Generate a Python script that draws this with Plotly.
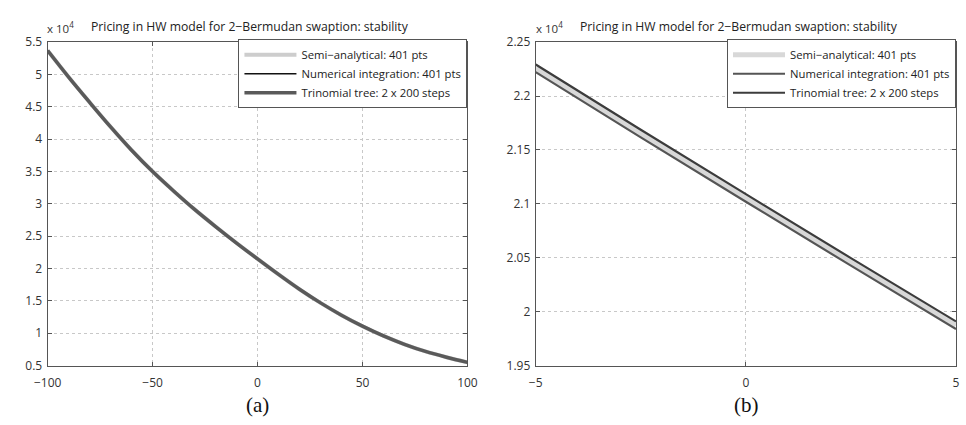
import plotly.graph_objects as go

# ---------------- data ----------------
# panel (a): shift vs price
x_a = [-100, -90, -80, -70, -60, -50, -40, -30, -20, -10, 0,
       10, 20, 30, 40, 50, 60, 70, 80, 90, 100]
price_a = [53700, 49600, 45700, 41900, 38300, 35000, 32000, 29150, 26500, 23950, 21500,
           19100, 16800, 14700, 12800, 11100, 9600, 8300, 7200, 6300, 5500]
semi_a = price_a
numint_a = price_a
tree_a = price_a

# panel (b): zoom
x_b = [-5, -2.5, 0, 2.5, 5]
semi_b = [22257, 21652, 21055, 20462, 19875]
numint_b = [22222, 21617, 21020, 20427, 19840]
tree_b = [22292, 21687, 21090, 20497, 19910]

names = ["Semi\u2212analytical: 401 pts",
         "Numerical integration: 401 pts",
         "Trinomial tree: 2 x 200 steps"]

yticks_a = [5000, 10000, 15000, 20000, 25000, 30000, 35000, 40000, 45000, 50000, 55000]
yticks_b = [19500, 20000, 20500, 21000, 21500, 22000, 22500]
xticks_a = [-100, -50, 0, 50, 100]
xticks_b = [-5, 0, 5]

title_txt = "Pricing in HW model for 2\u2212Bermudan swaption: stability"

# ---------------- figure ----------------
W, H = 966, 425
def px(x): return x / W
def py(y): return 1 - y / H

fig = go.Figure()

FONT = "Open Sans"

# panel a traces
fig.add_trace(go.Scatter(x=x_a, y=semi_a, mode="lines", name=names[0],
                         line=dict(color="#cdcdcd", width=4, shape="spline"),
                         xaxis="x", yaxis="y", legend="legend"))
fig.add_trace(go.Scatter(x=x_a, y=numint_a, mode="lines", name=names[1],
                         line=dict(color="#111111", width=1.3, shape="spline"),
                         xaxis="x", yaxis="y", legend="legend"))
fig.add_trace(go.Scatter(x=x_a, y=tree_a, mode="lines", name=names[2],
                         line=dict(color="#5a5a5a", width=3.5, shape="spline"),
                         xaxis="x", yaxis="y", legend="legend"))

# panel b traces
fig.add_trace(go.Scatter(x=x_b, y=semi_b, mode="lines", name=names[0],
                         line=dict(color="#d8d8d8", width=5, shape="spline"),
                         xaxis="x2", yaxis="y2", legend="legend2"))
fig.add_trace(go.Scatter(x=x_b, y=numint_b, mode="lines", name=names[1],
                         line=dict(color="#555555", width=2.2, shape="spline"),
                         xaxis="x2", yaxis="y2", legend="legend2"))
fig.add_trace(go.Scatter(x=x_b, y=tree_b, mode="lines", name=names[2],
                         line=dict(color="#3c3c3c", width=2.2, shape="spline"),
                         xaxis="x2", yaxis="y2", legend="legend2"))

ax_common = dict(showline=True, linecolor="#555555", linewidth=1, mirror="allticks",
                 ticks="inside", ticklen=4, tickcolor="#555555",
                 showgrid=True, gridcolor="#c8c8c8", griddash="dot", gridwidth=1,
                 zeroline=False, tickfont=dict(family=FONT, size=12, color="#333333"))

top, bot = 34.5, 371.5
legend_common = dict(xanchor="right", y=py(top - 3), yanchor="top",
                     bgcolor="white", bordercolor="#555555", borderwidth=1,
                     font=dict(family=FONT, size=11.3, color="#222222"),
                     tracegroupgap=0, itemwidth=52)
fig.update_layout(
    width=W, height=H, margin=dict(l=0, r=0, t=0, b=0),
    paper_bgcolor="white", plot_bgcolor="white",
    font=dict(family=FONT, size=11, color="#222222"),
    xaxis=dict(domain=[px(34.5), px(465)], range=[-100, 100], tickvals=xticks_a,
               anchor="y", ticklabelstandoff=6, **ax_common),
    yaxis=dict(domain=[py(bot), py(top)], range=[5000, 55000], tickvals=yticks_a,
               ticktext=[f"{v/1e4:g}" for v in yticks_a], anchor="x",
               ticklabelstandoff=2, **ax_common),
    xaxis2=dict(domain=[px(535), 1.0], range=[-5, 5], tickvals=xticks_b,
                anchor="y2", ticklabelstandoff=6, **ax_common),
    yaxis2=dict(domain=[py(bot), py(top)], range=[19500, 22500], tickvals=yticks_b,
                ticktext=[f"{v/1e4:g}" for v in yticks_b], anchor="x2",
                ticklabelstandoff=2, **ax_common),
    legend=dict(x=px(465), **legend_common),
    legend2=dict(x=1.0, **legend_common),
    showlegend=True,
)

ann = []
for cx in [242, 743]:
    ann.append(dict(text=title_txt, x=px(cx), y=py(18), xref="paper", yref="paper",
                    showarrow=False, xanchor="center", yanchor="middle",
                    font=dict(family=FONT, size=12.2, color="#222222")))
for lx in [32, 533]:
    ann.append(dict(text="x 10<sup>4</sup>", x=px(lx), y=py(19), xref="paper", yref="paper",
                    showarrow=False, xanchor="left", yanchor="middle",
                    font=dict(family=FONT, size=11.5, color="#333333")))
for cx, lab in [(250, "(a)"), (751, "(b)")]:
    ann.append(dict(text=lab, x=px(cx), y=py(413), xref="paper", yref="paper",
                    showarrow=False, xanchor="center", yanchor="middle",
                    font=dict(family="Liberation Serif", size=21, color="#111111")))
fig.update_layout(annotations=ann)

fig.write_html("out.html")
